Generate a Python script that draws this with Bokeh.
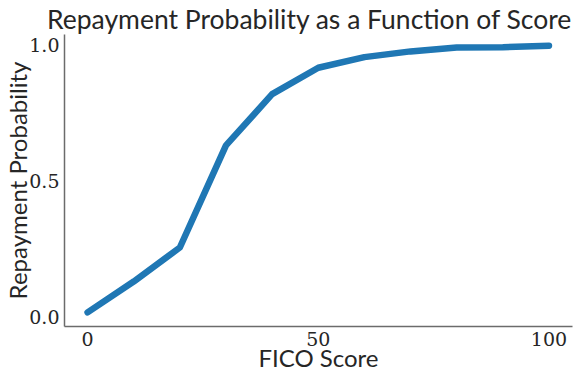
from bokeh.plotting import figure
from bokeh.models import Range1d, FixedTicker
from bokeh.embed import file_html
from bokeh.resources import INLINE

scores = [0, 10, 20, 30, 40, 50, 60, 70, 80, 90, 100]
repay_prob = [0.017, 0.13, 0.255, 0.63, 0.818, 0.915, 0.954, 0.975, 0.989, 0.99, 0.996]
x_ticks = [0, 50, 100]
y_ticks = [0.0, 0.5, 1.0]
y_tick_labels = {0: "0.0", 0.5: "0.5", 1: "1.0"}

p = figure(width=576, height=374, output_backend="svg", toolbar_location=None,
           x_range=Range1d(-5, 105.1), y_range=Range1d(-0.035, 1.037),
           min_border_left=4, min_border_right=4, min_border_top=0, min_border_bottom=4)

p.title.text = "Repayment Probability as a Function of Score"
p.title.text_font = "Lato"
p.title.text_font_size = "26.5px"
p.title.text_font_style = "normal"
p.title.text_color = "#262626"
p.title.align = "right"
p.title.standoff = 0
p.title.offset = 0

p.line(scores, repay_prob, line_color="#1f77b4", line_width=6.5, line_cap="round", line_join="round")

for ax in (p.xaxis, p.yaxis):
    ax.axis_line_color = "#6b6b6b"
    ax.axis_line_width = 1.5
    ax.major_tick_line_color = None
    ax.minor_tick_line_color = None
    ax.major_tick_out = 0
    ax.major_tick_in = 0
    ax.minor_tick_out = 0
    ax.minor_tick_in = 0
    ax.major_label_text_font = "DejaVu Serif"
    ax.major_label_text_font_size = "19px"
    ax.major_label_text_color = "#262626"
    ax.major_label_standoff = 5
    ax.axis_label_text_font = "Lato"
    ax.axis_label_text_font_size = "24px"
    ax.axis_label_text_font_style = "normal"
    ax.axis_label_text_color = "#262626"

p.xaxis.axis_label_standoff = -6
p.yaxis.axis_label_standoff = -6
p.xaxis.ticker = FixedTicker(ticks=x_ticks)
p.yaxis.ticker = FixedTicker(ticks=y_ticks)
p.yaxis.major_label_overrides = y_tick_labels
p.xaxis.axis_label = "FICO Score"
p.yaxis.axis_label = "Repayment Probability"

p.xgrid.grid_line_color = None
p.ygrid.grid_line_color = None
p.outline_line_color = None

open("out.html", "w").write(file_html(p, INLINE))
